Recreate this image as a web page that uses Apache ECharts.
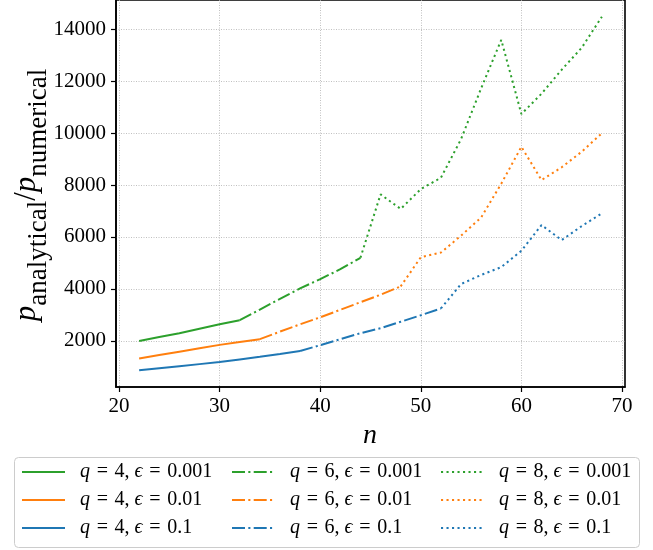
<!DOCTYPE html>
<html>
<head>
<meta charset="utf-8">
<script src="https://cdn.jsdelivr.net/npm/echarts@6/dist/echarts.min.js"></script>
<style>html,body{margin:0;padding:0;background:#fff;}#c{width:653px;height:550px;}</style>
</head>
<body>
<div id="c"></div>
<script>
// ---- data ----
const xTicks = [20, 30, 40, 50, 60, 70];
const yTicks = [2000, 4000, 6000, 8000, 10000, 12000, 14000];

const names = {
  q4e001: 'q = 4, ϵ = 0.001', q4e01: 'q = 4, ϵ = 0.01', q4e1: 'q = 4, ϵ = 0.1',
  q6e001: 'q = 6, ϵ = 0.001', q6e01: 'q = 6, ϵ = 0.01', q6e1: 'q = 6, ϵ = 0.1',
  q8e001: 'q = 8, ϵ = 0.001', q8e01: 'q = 8, ϵ = 0.01', q8e1: 'q = 8, ϵ = 0.1'
};

// eps = 0.001 (green)
const nQ4e001 = [22, 24, 26, 28, 30, 32];
const vQ4e001 = [2000, 2150, 2300, 2470, 2640, 2800];
const nQ6e001 = [32, 34, 36, 38, 40, 42, 44];
const vQ6e001 = [2800, 3210, 3620, 4020, 4380, 4760, 5200];
const nQ8e001 = [44, 46, 48, 50, 52, 54, 56, 58, 60, 62, 64, 66, 68];
const vQ8e001 = [5200, 7640, 7080, 7840, 8280, 9760, 11720, 13580, 10730, 11510, 12430, 13280, 14470];

// eps = 0.01 (orange)
const nQ4e01 = [22, 24, 26, 28, 30, 32, 34];
const vQ4e01 = [1330, 1460, 1590, 1720, 1850, 1960, 2070];
const nQ6e01 = [34, 36, 38, 40, 42, 44, 46, 48];
const vQ6e01 = [2070, 2360, 2640, 2910, 3200, 3490, 3780, 4100];
const nQ8e01 = [48, 50, 52, 54, 56, 58, 60, 62, 64, 66, 68];
const vQ8e01 = [4100, 5220, 5400, 6050, 6750, 8050, 9470, 8190, 8680, 9280, 9990];

// eps = 0.1 (blue)
const nQ4e1 = [22, 24, 26, 28, 30, 32, 34, 36, 38];
const vQ4e1 = [870, 950, 1030, 1110, 1190, 1290, 1390, 1500, 1615];
const nQ6e1 = [38, 40, 42, 44, 46, 48, 50, 52];
const vQ6e1 = [1615, 1840, 2070, 2300, 2490, 2740, 2990, 3250];
const nQ8e1 = [52, 54, 56, 58, 60, 62, 64, 66, 68];
const vQ8e1 = [3250, 4190, 4540, 4840, 5470, 6460, 5880, 6420, 6910];

// ---- styling ----
const FONT = '"Liberation Serif", "DejaVu Serif", serif';
const GREEN = '#2ca02c', ORANGE = '#ff7f0e', BLUE = '#1f77b4';
const SOLID = 'solid', DASHDOT = [13, 3.3, 2.1, 3.3], DOT = [2.1, 3.4];

function pairs(xs, ys) { return xs.map((x, i) => [x, ys[i]]); }
function mk(name, xs, ys, color, type) {
  return {
    type: 'line', name: name, data: pairs(xs, ys), symbol: 'none', smooth: false,
    lineStyle: { color: color, width: 2, type: type, cap: 'butt' },
    itemStyle: { color: color }, animation: false
  };
}

const series = [
  mk(names.q4e001, nQ4e001, vQ4e001, GREEN, SOLID),
  mk(names.q4e01, nQ4e01, vQ4e01, ORANGE, SOLID),
  mk(names.q4e1, nQ4e1, vQ4e1, BLUE, SOLID),
  mk(names.q6e001, nQ6e001, vQ6e001, GREEN, DASHDOT),
  mk(names.q6e01, nQ6e01, vQ6e01, ORANGE, DASHDOT),
  mk(names.q6e1, nQ6e1, vQ6e1, BLUE, DASHDOT),
  mk(names.q8e001, nQ8e001, vQ8e001, GREEN, DOT),
  mk(names.q8e01, nQ8e01, vQ8e01, ORANGE, DOT),
  mk(names.q8e1, nQ8e1, vQ8e1, BLUE, DOT)
];

const LFS = 20;
const legRich = {
  q: { fontFamily: FONT, fontSize: LFS, fontStyle: 'italic', color: '#000', padding: [0, 0, 0, 10] },
  e: { fontFamily: FONT, fontSize: LFS, fontStyle: 'italic', color: '#000' },
  t: { fontFamily: FONT, fontSize: LFS, color: '#000' }
};
function legFmt(name) {
  const m = name.match(/q = (\d+), ϵ = ([\d.]+)/);
  return '{q|q}{t|\u2004=\u2004' + m[1] + ', }{e|ϵ}{t|\u2004=\u2004' + m[2] + '}';
}
function legend(left, items) {
  return {
    type: 'plain', orient: 'vertical', left: left, top: 460.5, padding: 0,
    itemWidth: 43, itemHeight: 14, itemGap: 5, selectedMode: false,
    itemStyle: { opacity: 0 },
    data: items, formatter: legFmt,
    textStyle: { fontFamily: FONT, fontSize: LFS, color: '#000', lineHeight: 23, rich: legRich }
  };
}

// y-axis title built from pieces (main letters + subscripts), measured at runtime
const mc = document.createElement('canvas').getContext('2d');
function tw(style, size, s) { mc.font = style + ' ' + size + 'px ' + FONT; return mc.measureText(s).width; }
const titlePieces = [
  { t: 'p', st: 'italic', fs: 31, x: 27 },
  { t: 'analytical', st: 'normal', fs: 27, x: 38.5 },
  { t: '/', st: 'normal', fs: 31, x: 27 },
  { t: 'p', st: 'italic', fs: 31, x: 27 },
  { t: 'numerical', st: 'normal', fs: 27, x: 38.5 }
];
const widths = titlePieces.map(p => tw(p.st, p.fs, p.t));
const totalW = widths.reduce((a, b) => a + b, 0);
let cum = 195 + totalW / 2;
const titleEls = titlePieces.map((p, i) => {
  const el = {
    type: 'text', z: 5, x: p.x, y: cum, rotation: Math.PI / 2,
    style: { text: p.t, fontFamily: FONT, fontSize: p.fs, fontStyle: p.st, fill: '#000', align: 'left', verticalAlign: 'middle' }
  };
  cum -= widths[i];
  return el;
});

const gridLine = { show: true, lineStyle: { color: '#b0b0b0', width: 0.8, type: [1, 1.5] } };
const plain = v => String(v);

const option = {
  animation: false,
  backgroundColor: '#fff',
  grid: { left: 116, right: 28, top: 0, bottom: 163, show: true, borderColor: '#000', borderWidth: 1.6, backgroundColor: 'transparent' },
  xAxis: {
    type: 'value', min: 19.7, max: 70.3,
    axisLine: { show: true, onZero: false, lineStyle: { color: '#000', width: 1.6 } },
    axisTick: { show: true, inside: false, length: 5, lineStyle: { color: '#000', width: 1.2 }, customValues: xTicks },
    axisLabel: { show: true, margin: 9, fontFamily: FONT, fontSize: 21, color: '#000', customValues: xTicks, formatter: plain },
    splitLine: gridLine
  },
  yAxis: {
    type: 'value', min: 230, max: 15115,
    axisLine: { show: true, onZero: false, lineStyle: { color: '#000', width: 1.6 } },
    axisTick: { show: true, inside: false, length: 5, lineStyle: { color: '#000', width: 1.2 }, customValues: yTicks },
    axisLabel: { show: true, margin: 10, fontFamily: FONT, fontSize: 21, color: '#000', customValues: yTicks, formatter: plain },
    splitLine: gridLine
  },
  legend: [
    legend(21, [names.q4e001, names.q4e01, names.q4e1]),
    legend(231, [names.q6e001, names.q6e01, names.q6e1]),
    legend(440, [names.q8e001, names.q8e01, names.q8e1])
  ],
  graphic: [
    {
      type: 'rect', z: 1, shape: { x: 14.5, y: 457.5, width: 625, height: 90, r: 4 },
      style: { fill: 'rgba(255,255,255,0.8)', stroke: '#cccccc', lineWidth: 1 }
    },
    {
      type: 'text', z: 5, x: 370, y: 436,
      style: { text: 'n', fontFamily: FONT, fontSize: 28, fontStyle: 'italic', align: 'center', verticalAlign: 'middle', fill: '#000' }
    }
  ].concat(titleEls),
  series: series
};

const chart = echarts.init(document.getElementById('c'), null, { renderer: 'canvas' });
chart.setOption(option);
</script>
</body>
</html>
